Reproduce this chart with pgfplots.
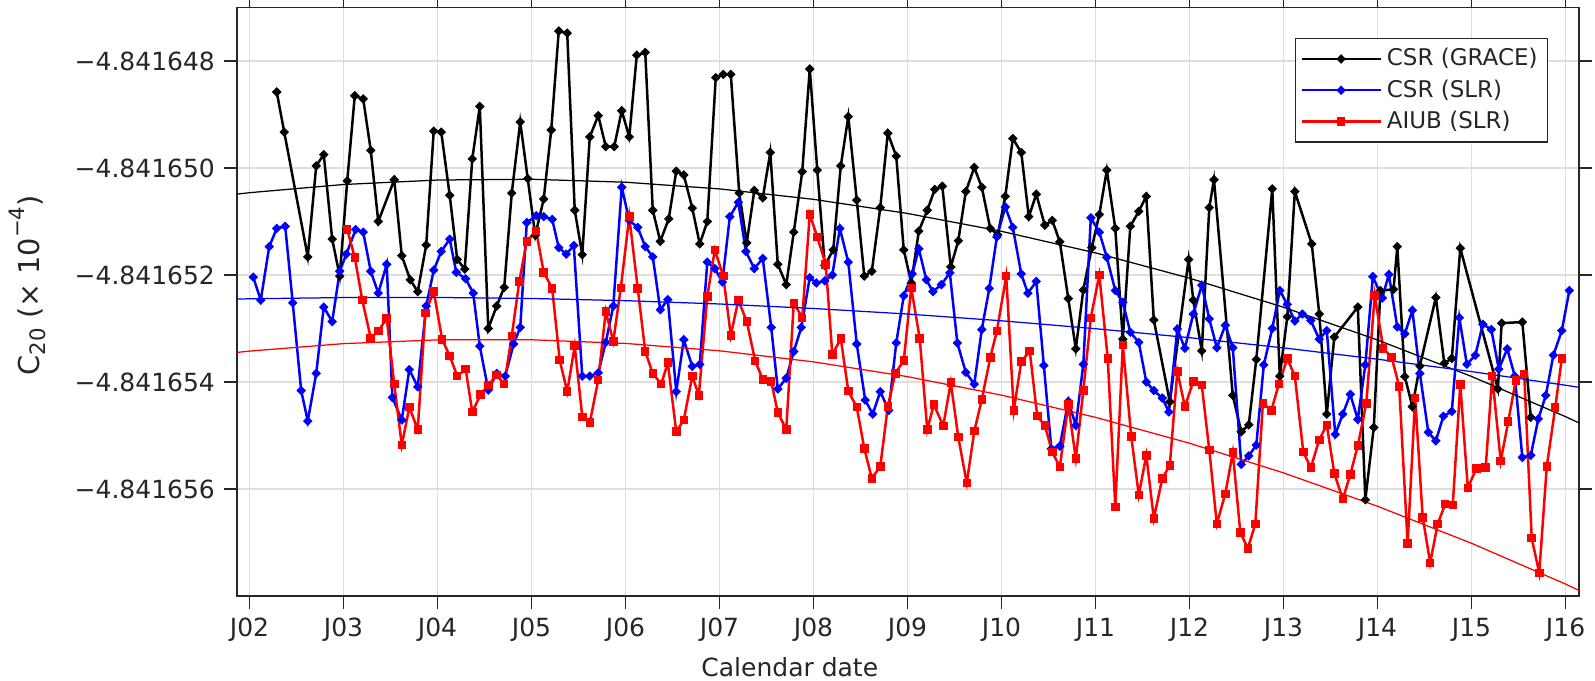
\documentclass[border=0pt]{standalone}
\usepackage{pgfplots}
\pgfplotsset{compat=1.18}
\usepackage{fontspec}
\setmainfont{DejaVu Sans}
\definecolor{axgray}{RGB}{38,38,38}
\definecolor{gridgray}{RGB}{222,222,222}
\begin{document}
\begin{tikzpicture}
\useasboundingbox (-94.68pt,-34pt) rectangle (543.32pt,238.4pt);
\begin{axis}[
  at={(0pt,0pt)}, anchor=south west,
  scale only axis, width=537pt, height=235.4pt,
  xmin=2001.864, xmax=2016.145, ymin=-8, ymax=3,
  xtick={2002,2003,2004,2005,2006,2007,2008,2009,2010,2011,2012,2013,2014,2015,2016},
  xticklabels={J02,J03,J04,J05,J06,J07,J08,J09,J10,J11,J12,J13,J14,J15,J16},
  ytick={-6,-4,-2,0,2},
  yticklabels={−4.841656,−4.841654,−4.841652,−4.841650,−4.841648},
  tick align=outside, major tick length=5.2pt,
  tick style={axgray, line width=0.6pt},
  axis line style={axgray, line width=0.7pt},
  grid=major, major grid style={gridgray, line width=0.5pt},
  ticklabel style={font=\fontsize{10}{11}\selectfont, text=axgray},
  xlabel={Calendar date},
  ylabel={\fontsize{11.5}{12}\selectfont C\raisebox{-0.22em}{\fontsize{8.5}{9}\selectfont 20} (× 10\raisebox{0.5em}{\fontsize{8.5}{9}\selectfont −4})},
  label style={font=\fontsize{10}{11}\selectfont, text=axgray},
  xlabel style={at={(axis description cs:0.412,-0.1206)}, anchor=center},
  ylabel style={at={(axis description cs:-0.147,0.528)}, anchor=base},
  legend style={at={(axis description cs:0.977,0.9487)}, anchor=north east,
    draw=axgray, line width=0.6pt, font=\fontsize{9.2}{10}\selectfont, text=axgray,
    inner xsep=2pt, inner ysep=2pt, row sep=0pt},
  legend cell align=left,
  legend image code/.code={\draw[mark repeat=2,mark phase=2,#1] plot coordinates {(0pt,0pt) (15.8pt,0pt) (31.6pt,0pt)};},
]
\addplot[black, line width=1.0pt, mark=square*, mark size=1.1pt, mark options={rotate=45, line width=0.5pt}] coordinates {
(2002.29,1.42)(2002.37,0.67)(2002.62,-1.66)(2002.71,0.04)(2002.79,0.25)(2002.88,-1.33)(2002.96,-2.02)(2003.04,-0.24)(2003.12,1.35)(2003.21,1.29)(2003.29,0.33)(2003.37,-1.0)(2003.54,-0.22)(2003.62,-1.64)(2003.71,-2.09)(2003.79,-2.31)(2003.88,-1.44)(2003.96,0.69)(2004.04,0.67)(2004.13,-0.51)(2004.21,-1.71)(2004.29,-1.89)(2004.37,0.17)(2004.45,1.15)(2004.54,-3.0)(2004.63,-2.58)(2004.71,-2.23)(2004.79,-0.47)(2004.88,0.86)(2004.96,-0.2)(2005.04,-1.26)(2005.13,-0.58)(2005.21,0.71)(2005.29,2.56)(2005.38,2.52)(2005.46,-0.79)(2005.54,-1.62)(2005.62,0.58)(2005.71,0.98)(2005.79,0.4)(2005.88,0.4)(2005.96,1.07)(2006.04,0.58)(2006.12,2.11)(2006.21,2.16)(2006.29,-0.79)(2006.37,-1.37)(2006.46,-0.95)(2006.54,-0.06)(2006.62,-0.13)(2006.71,-0.75)(2006.79,-1.42)(2006.87,-1.0)(2006.96,1.69)(2007.04,1.75)(2007.12,1.75)(2007.21,-0.47)(2007.29,-1.40)(2007.37,-0.42)(2007.46,-0.56)(2007.54,0.29)(2007.62,-1.80)(2007.71,-2.18)(2007.79,-1.2)(2007.88,-0.07)(2007.96,1.85)(2008.04,-0.04)(2008.12,-1.82)(2008.21,-1.53)(2008.29,0.04)(2008.37,0.96)(2008.46,-0.60)(2008.54,-2.02)(2008.62,-1.93)(2008.71,-0.74)(2008.79,0.65)(2008.88,0.22)(2008.96,-1.53)(2009.04,-2.15)(2009.12,-1.18)(2009.21,-0.79)(2009.29,-0.4)(2009.37,-0.34)(2009.46,-1.85)(2009.54,-1.36)(2009.62,-0.44)(2009.71,0.01)(2009.79,-0.36)(2009.88,-1.13)(2009.96,-1.25)(2010.04,-0.53)(2010.12,0.55)(2010.21,0.29)(2010.29,-0.91)(2010.37,-0.49)(2010.46,-1.07)(2010.54,-0.98)(2010.62,-1.38)(2010.71,-2.44)(2010.79,-3.38)(2010.87,-2.28)(2010.96,-1.49)(2011.04,-0.87)(2011.12,-0.04)(2011.21,-1.13)(2011.29,-3.2)(2011.37,-1.09)(2011.46,-0.81)(2011.54,-0.53)(2011.62,-2.84)(2011.79,-4.37)(2011.99,-1.71)(2012.04,-2.47)(2012.13,-3.42)(2012.21,-0.74)(2012.26,-0.22)(2012.46,-4.25)(2012.55,-4.93)(2012.63,-4.8)(2012.71,-3.58)(2012.88,-0.39)(2012.96,-3.89)(2013.04,-2.78)(2013.12,-0.44)(2013.30,-1.42)(2013.38,-2.73)(2013.46,-4.60)(2013.54,-3.16)(2013.79,-2.60)(2013.87,-6.2)(2013.96,-4.85)(2014.03,-2.29)(2014.17,-2.27)(2014.21,-1.47)(2014.29,-3.9)(2014.37,-4.46)(2014.45,-3.7)(2014.62,-2.42)(2014.71,-3.65)(2014.79,-3.56)(2014.88,-1.5)(2015.28,-4.13)(2015.32,-2.9)(2015.54,-2.88)(2015.63,-4.66)
};
\addlegendentry{CSR (GRACE)}
\addplot[blue, line width=1.0pt, mark=square*, mark size=1.1pt, mark options={rotate=45, line width=0.5pt}] coordinates {
(2002.04,-2.04)(2002.12,-2.47)(2002.21,-1.47)(2002.29,-1.13)(2002.38,-1.09)(2002.46,-2.52)(2002.55,-4.16)(2002.62,-4.73)(2002.71,-3.84)(2002.79,-2.60)(2002.88,-2.87)(2002.96,-1.93)(2003.03,-1.61)(2003.13,-1.15)(2003.21,-1.2)(2003.29,-1.93)(2003.37,-2.34)(2003.46,-1.80)(2003.52,-4.29)(2003.62,-4.71)(2003.70,-3.77)(2003.79,-4.09)(2003.88,-2.58)(2003.96,-1.91)(2004.04,-1.56)(2004.13,-1.33)(2004.20,-1.95)(2004.30,-2.07)(2004.38,-2.34)(2004.45,-3.33)(2004.54,-4.15)(2004.63,-3.84)(2004.72,-3.89)(2004.81,-3.29)(2004.88,-2.98)(2004.95,-1.02)(2005.05,-0.89)(2005.13,-0.91)(2005.22,-0.96)(2005.29,-1.49)(2005.37,-1.61)(2005.45,-1.45)(2005.54,-3.89)(2005.62,-3.89)(2005.71,-3.83)(2005.79,-3.26)(2005.87,-2.58)(2005.96,-0.36)(2006.04,-0.98)(2006.13,-1.11)(2006.21,-1.47)(2006.29,-1.66)(2006.37,-2.65)(2006.45,-2.46)(2006.54,-4.18)(2006.62,-3.21)(2006.71,-3.71)(2006.79,-3.67)(2006.87,-1.76)(2006.95,-1.88)(2007.03,-2.13)(2007.11,-0.91)(2007.20,-0.64)(2007.28,-1.56)(2007.37,-1.88)(2007.46,-1.69)(2007.55,-2.98)(2007.62,-4.13)(2007.71,-3.93)(2007.79,-3.43)(2007.87,-2.98)(2007.96,-2.05)(2008.03,-2.15)(2008.12,-2.11)(2008.20,-2.0)(2008.28,-1.13)(2008.37,-1.76)(2008.46,-3.29)(2008.55,-4.34)(2008.63,-4.60)(2008.71,-4.18)(2008.80,-4.53)(2008.88,-3.27)(2008.96,-2.39)(2009.05,-1.98)(2009.12,-1.51)(2009.20,-2.09)(2009.27,-2.31)(2009.36,-2.18)(2009.45,-1.96)(2009.53,-3.27)(2009.62,-3.82)(2009.71,-4.04)(2009.79,-3.02)(2009.87,-2.25)(2009.95,-1.29)(2010.04,-0.73)(2010.12,-1.11)(2010.21,-1.98)(2010.28,-2.34)(2010.37,-2.12)(2010.45,-3.69)(2010.53,-5.25)(2010.62,-5.2)(2010.71,-4.36)(2010.79,-4.81)(2010.87,-3.67)(2010.95,-0.93)(2011.04,-1.2)(2011.12,-1.67)(2011.21,-2.29)(2011.29,-2.51)(2011.37,-3.07)(2011.46,-3.26)(2011.54,-4.0)(2011.62,-4.16)(2011.71,-4.30)(2011.78,-4.56)(2011.87,-3.01)(2011.95,-3.37)(2012.04,-2.73)(2012.13,-2.19)(2012.21,-2.82)(2012.29,-3.36)(2012.38,-2.94)(2012.46,-3.36)(2012.55,-5.54)(2012.63,-5.38)(2012.71,-5.18)(2012.79,-3.68)(2012.88,-3.0)(2012.96,-2.29)(2013.04,-2.55)(2013.12,-2.86)(2013.20,-2.73)(2013.29,-2.85)(2013.38,-3.2)(2013.46,-3.04)(2013.55,-4.98)(2013.63,-4.60)(2013.71,-4.23)(2013.79,-4.70)(2013.87,-3.68)(2013.95,-2.03)(2014.05,-2.43)(2014.12,-1.99)(2014.21,-2.97)(2014.29,-3.10)(2014.37,-2.66)(2014.45,-3.84)(2014.54,-4.94)(2014.62,-5.10)(2014.70,-4.64)(2014.79,-4.55)(2014.87,-2.80)(2014.95,-3.67)(2015.04,-3.50)(2015.12,-2.92)(2015.21,-3.02)(2015.29,-3.76)(2015.38,-3.38)(2015.46,-3.89)(2015.54,-5.41)(2015.63,-5.37)(2015.71,-4.69)(2015.79,-4.25)(2015.87,-3.50)(2015.96,-3.04)(2016.04,-2.29)
};
\addlegendentry{CSR (SLR)}
\addplot[red, line width=1.0pt, mark=square*, mark size=1.45pt, mark options={line width=0.5pt}] coordinates {
(2003.04,-1.15)(2003.12,-1.67)(2003.20,-2.47)(2003.29,-3.18)(2003.37,-3.05)(2003.46,-2.81)(2003.54,-4.04)(2003.62,-5.18)(2003.70,-4.47)(2003.79,-4.89)(2003.87,-2.71)(2003.96,-2.31)(2004.05,-3.21)(2004.13,-3.51)(2004.21,-3.89)(2004.30,-3.76)(2004.37,-4.56)(2004.46,-4.23)(2004.54,-4.06)(2004.63,-3.87)(2004.71,-4.04)(2004.79,-3.14)(2004.87,-2.12)(2004.95,-1.37)(2005.05,-1.18)(2005.13,-1.95)(2005.22,-2.25)(2005.30,-3.59)(2005.38,-4.18)(2005.46,-3.33)(2005.54,-4.65)(2005.62,-4.76)(2005.71,-3.96)(2005.79,-2.68)(2005.87,-3.24)(2005.95,-2.24)(2006.04,-0.91)(2006.13,-2.25)(2006.21,-3.43)(2006.29,-3.84)(2006.38,-4.04)(2006.45,-3.64)(2006.54,-4.93)(2006.62,-4.71)(2006.71,-3.89)(2006.78,-4.25)(2006.87,-2.4)(2006.95,-1.53)(2007.04,-2.02)(2007.12,-3.13)(2007.20,-2.47)(2007.29,-2.87)(2007.38,-3.61)(2007.46,-3.95)(2007.55,-3.99)(2007.62,-4.57)(2007.71,-4.89)(2007.79,-2.52)(2007.88,-2.80)(2007.96,-0.87)(2008.04,-1.29)(2008.13,-1.80)(2008.20,-3.49)(2008.29,-3.19)(2008.37,-4.17)(2008.46,-4.47)(2008.54,-5.24)(2008.62,-5.80)(2008.71,-5.58)(2008.79,-4.46)(2008.87,-3.84)(2008.96,-3.6)(2009.04,-2.24)(2009.13,-3.19)(2009.21,-4.89)(2009.28,-4.42)(2009.38,-4.82)(2009.46,-4.01)(2009.54,-5.03)(2009.63,-5.89)(2009.71,-4.92)(2009.79,-4.33)(2009.88,-3.54)(2009.95,-3.05)(2010.05,-2.02)(2010.13,-4.53)(2010.21,-3.62)(2010.30,-3.42)(2010.38,-4.64)(2010.46,-4.81)(2010.54,-5.31)(2010.62,-5.59)(2010.71,-4.42)(2010.79,-5.43)(2010.87,-4.16)(2010.95,-2.8)(2011.04,-2.0)(2011.13,-3.56)(2011.21,-6.34)(2011.29,-3.31)(2011.38,-5.02)(2011.46,-6.11)(2011.54,-5.37)(2011.62,-6.55)(2011.71,-5.80)(2011.79,-5.56)(2011.87,-3.80)(2011.95,-4.46)(2012.04,-3.99)(2012.13,-4.06)(2012.21,-5.27)(2012.29,-6.65)(2012.38,-6.09)(2012.46,-5.32)(2012.54,-6.81)(2012.62,-7.11)(2012.70,-6.65)(2012.78,-4.40)(2012.87,-4.53)(2012.95,-4.04)(2013.04,-3.56)(2013.12,-3.89)(2013.21,-5.31)(2013.29,-5.6)(2013.38,-5.08)(2013.46,-4.8)(2013.54,-5.71)(2013.63,-6.19)(2013.71,-5.73)(2013.79,-5.19)(2013.88,-4.40)(2013.97,-2.38)(2014.06,-3.37)(2014.15,-3.54)(2014.23,-4.08)(2014.32,-7.02)(2014.40,-4.30)(2014.48,-6.53)(2014.56,-7.38)(2014.64,-6.65)(2014.72,-6.28)(2014.80,-6.30)(2014.88,-4.05)(2014.96,-5.98)(2015.05,-5.62)(2015.15,-5.60)(2015.22,-3.89)(2015.31,-5.48)(2015.39,-4.74)(2015.47,-3.97)(2015.56,-3.85)(2015.64,-6.92)(2015.72,-7.57)(2015.80,-5.58)(2015.89,-4.48)(2015.96,-3.56)
};
\addlegendentry{AIUB (SLR)}
\addplot[black, line width=0.5pt, forget plot] coordinates {
(2001.864,-0.489)(2002,-0.462)(2003,-0.309)(2004,-0.225)(2005,-0.211)(2006,-0.266)(2007,-0.391)(2008,-0.586)(2009,-0.85)(2010,-1.184)(2011,-1.587)(2012,-2.060)(2013,-2.603)(2014,-3.215)(2015,-3.897)(2016,-4.648)(2016.145,-4.767)
};
\addplot[blue, line width=0.5pt, forget plot] coordinates {
(2001.864,-2.450)(2002,-2.445)(2003,-2.422)(2004,-2.420)(2005,-2.439)(2006,-2.480)(2007,-2.542)(2008,-2.626)(2009,-2.73)(2010,-2.856)(2011,-3.004)(2012,-3.172)(2013,-3.363)(2014,-3.574)(2015,-3.806)(2016,-4.061)(2016.145,-4.100)
};
\addplot[red, line width=0.5pt, forget plot] coordinates {
(2001.864,-3.448)(2002,-3.423)(2003,-3.283)(2004,-3.213)(2005,-3.211)(2006,-3.279)(2007,-3.417)(2008,-3.624)(2009,-3.9)(2010,-4.246)(2011,-4.661)(2012,-5.145)(2013,-5.699)(2014,-6.323)(2015,-7.015)(2016,-7.777)(2016.145,-7.898)
};
\end{axis}
\end{tikzpicture}
\end{document}
